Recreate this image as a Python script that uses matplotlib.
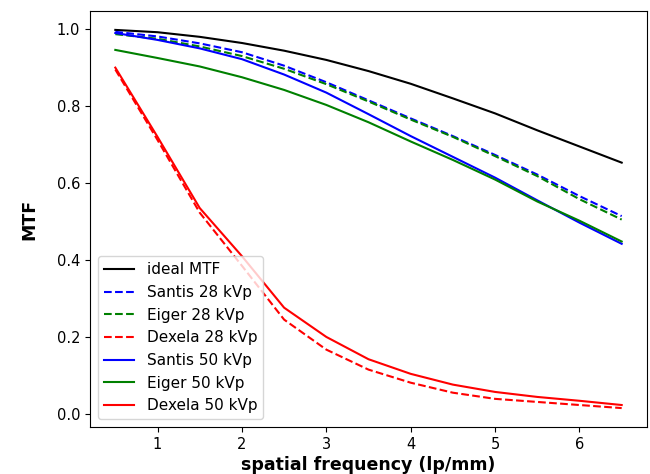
import matplotlib
matplotlib.use("Agg")
import matplotlib.pyplot as plt

# Spatial frequencies (lp/mm)
freq = [0.5, 1.0, 1.5, 2.0, 2.5, 3.0, 3.5, 4.0, 4.5, 5.0, 5.5, 6.0, 6.5]

# Ideal (pixel-aperture) MTF
ideal_mtf = [0.998, 0.992, 0.980, 0.964, 0.944, 0.920, 0.891, 0.858,
             0.820, 0.781, 0.737, 0.695, 0.653]

# 28 kVp measurements
santis_28 = [0.993, 0.981, 0.963, 0.940, 0.905, 0.862, 0.815, 0.768,
             0.722, 0.673, 0.622, 0.566, 0.514]
eiger_28 = [0.987, 0.975, 0.955, 0.930, 0.897, 0.857, 0.812, 0.765,
            0.720, 0.670, 0.618, 0.558, 0.505]
dexela_28 = [0.895, 0.712, 0.523, 0.385, 0.245, 0.167, 0.115, 0.081,
             0.055, 0.039, 0.031, 0.023, 0.015]

# 50 kVp measurements
santis_50 = [0.990, 0.972, 0.950, 0.922, 0.882, 0.835, 0.779, 0.722,
             0.668, 0.614, 0.555, 0.497, 0.442]
eiger_50 = [0.946, 0.925, 0.903, 0.875, 0.842, 0.803, 0.758, 0.708,
            0.660, 0.609, 0.552, 0.502, 0.448]
dexela_50 = [0.900, 0.720, 0.535, 0.410, 0.276, 0.200, 0.142, 0.104,
             0.076, 0.057, 0.044, 0.034, 0.023]

fig = plt.figure(figsize=(6.5, 4.74), dpi=100)
ax = fig.add_axes([90 / 650, 1 - 427 / 474, 557 / 650, 416 / 474])

ax.plot(freq, ideal_mtf, color="black", linestyle="-", label="ideal MTF")
ax.plot(freq, santis_28, color="blue", linestyle="--", label="Santis 28 kVp")
ax.plot(freq, eiger_28, color="green", linestyle="--", label="Eiger 28 kVp")
ax.plot(freq, dexela_28, color="red", linestyle="--", label="Dexela 28 kVp")
ax.plot(freq, santis_50, color="blue", linestyle="-", label="Santis 50 kVp")
ax.plot(freq, eiger_50, color="green", linestyle="-", label="Eiger 50 kVp")
ax.plot(freq, dexela_50, color="red", linestyle="-", label="Dexela 50 kVp")

ax.set_xlabel("spatial frequency (lp/mm)", fontsize=12.5, fontweight="bold",
              labelpad=3)
ax.set_ylabel("MTF", fontsize=12.5, fontweight="bold", labelpad=13)
ax.tick_params(labelsize=10.5)
ax.legend(loc="lower left", fontsize=11)

fig.savefig("out.png", dpi=100)
